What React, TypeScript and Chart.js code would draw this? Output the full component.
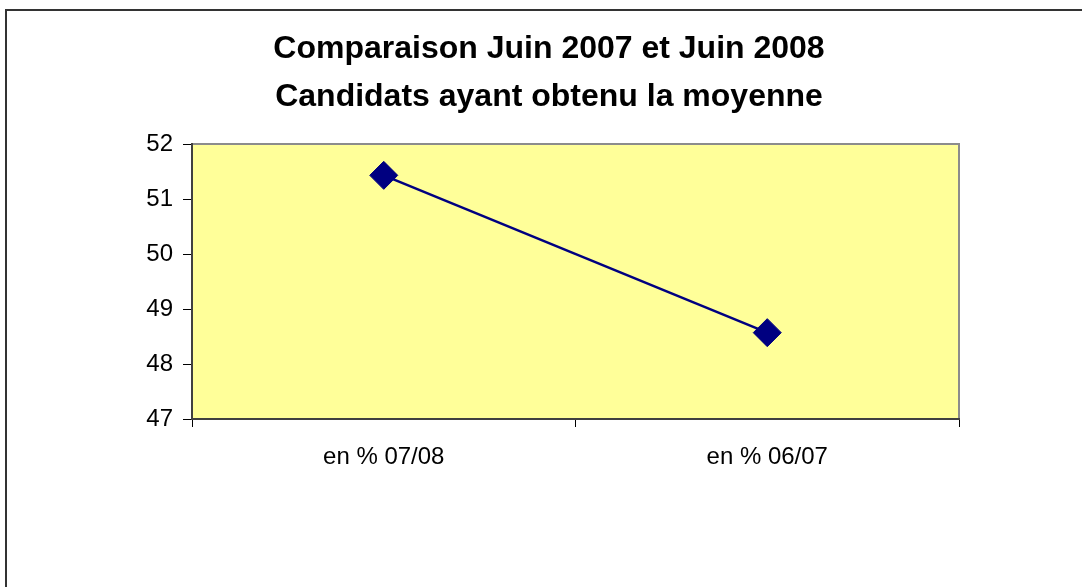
import React, { useEffect, useRef } from "react";
import { Chart, registerables } from "chart.js";

Chart.register(...registerables);

const titleLines = ["Comparaison Juin 2007 et Juin 2008", "Candidats ayant obtenu la moyenne"];
const categories = ["en % 07/08", "en % 06/07"];
const seriesValues = [51.43, 48.57];
const yTicks = [47, 48, 49, 50, 51, 52];

const FONT = "'Liberation Sans', Arial, sans-serif";

const framePlugin = {
  id: "framePlugin",
  beforeDraw(chart: any) {
    const { ctx, chartArea } = chart;
    const { left, top, right, bottom } = chartArea;
    ctx.save();
    ctx.fillStyle = "#ffffff";
    ctx.fillRect(0, 0, chart.width, chart.height);
    // outer border (right and bottom run off the page)
    ctx.strokeStyle = "#333333";
    ctx.lineWidth = 2;
    ctx.strokeRect(6, 10, chart.width + 20, chart.height + 20);
    // plot background
    ctx.fillStyle = "#FFFF99";
    ctx.fillRect(left, top, right - left, bottom - top);
    ctx.strokeStyle = "#8c8c8c";
    ctx.lineWidth = 2;
    ctx.beginPath();
    ctx.moveTo(left, top);
    ctx.lineTo(right, top);
    ctx.lineTo(right, bottom);
    ctx.stroke();
    ctx.restore();
  },
};

export default function App() {
  const ref = useRef<HTMLCanvasElement | null>(null);
  useEffect(() => {
    if (!ref.current) return;
    const chart = new Chart(ref.current, {
      type: "line",
      data: {
        labels: categories,
        datasets: [
          {
            data: seriesValues,
            yAxisID: "y",
            borderColor: "#000080",
            backgroundColor: "#000080",
            borderWidth: 2.5,
            pointStyle: "rectRot",
            pointRadius: 14,
            pointBorderWidth: 1,
            pointBorderColor: "#000080",
            pointBackgroundColor: "#000080",
            tension: 0,
            fill: false,
          },
        ],
      },
      options: {
        responsive: false,
        animation: false,
        layout: { padding: { left: 16, right: 0, top: 0, bottom: 0 } },
        plugins: {
          legend: { display: false },
          tooltip: { enabled: false },
          title: {
            display: true,
            text: titleLines,
            color: "#000000",
            font: { family: FONT, size: 32, weight: "bold", lineHeight: 1.5 },
            padding: { top: 25, bottom: 23 },
          },
        },
        scales: {
          x: {
            type: "category",
            offset: true,
            grid: {
              offset: true,
              drawOnChartArea: false,
              drawTicks: true,
              tickLength: 8,
              color: "#000000",
              lineWidth: 1,
            },
            border: { display: true, color: "#404040", width: 2 },
            ticks: {
              color: "#000000",
              font: { family: FONT, size: 24 },
              padding: 16,
              maxRotation: 0,
            },
            afterFit(scale: any) {
              scale.height = 168;
            },
          },
          y: {
            position: "left",
            min: yTicks[0],
            max: yTicks[yTicks.length - 1],
            afterBuildTicks(scale: any) {
              scale.ticks = yTicks.map((v) => ({ value: v }));
            },
            grid: {
              drawOnChartArea: false,
              drawTicks: true,
              tickLength: 9,
              color: "#000000",
              lineWidth: 1,
            },
            border: { display: true, color: "#404040", width: 2 },
            ticks: {
              color: "#000000",
              font: { family: FONT, size: 24 },
              padding: 10,
            },
            afterFit(scale: any) {
              scale.width = 176;
            },
          },
          yRight: {
            position: "right",
            min: yTicks[0],
            max: yTicks[yTicks.length - 1],
            grid: { display: false, drawTicks: false },
            border: { display: false },
            ticks: { display: false },
            afterFit(scale: any) {
              scale.width = 123;
            },
          },
        },
      },
      plugins: [framePlugin],
    });
    return () => chart.destroy();
  }, []);
  return (
    <div style={{ position: "absolute", left: 0, top: 0, width: 1082, height: 587 }}>
      <canvas ref={ref} width={1082} height={587} />
    </div>
  );
}
